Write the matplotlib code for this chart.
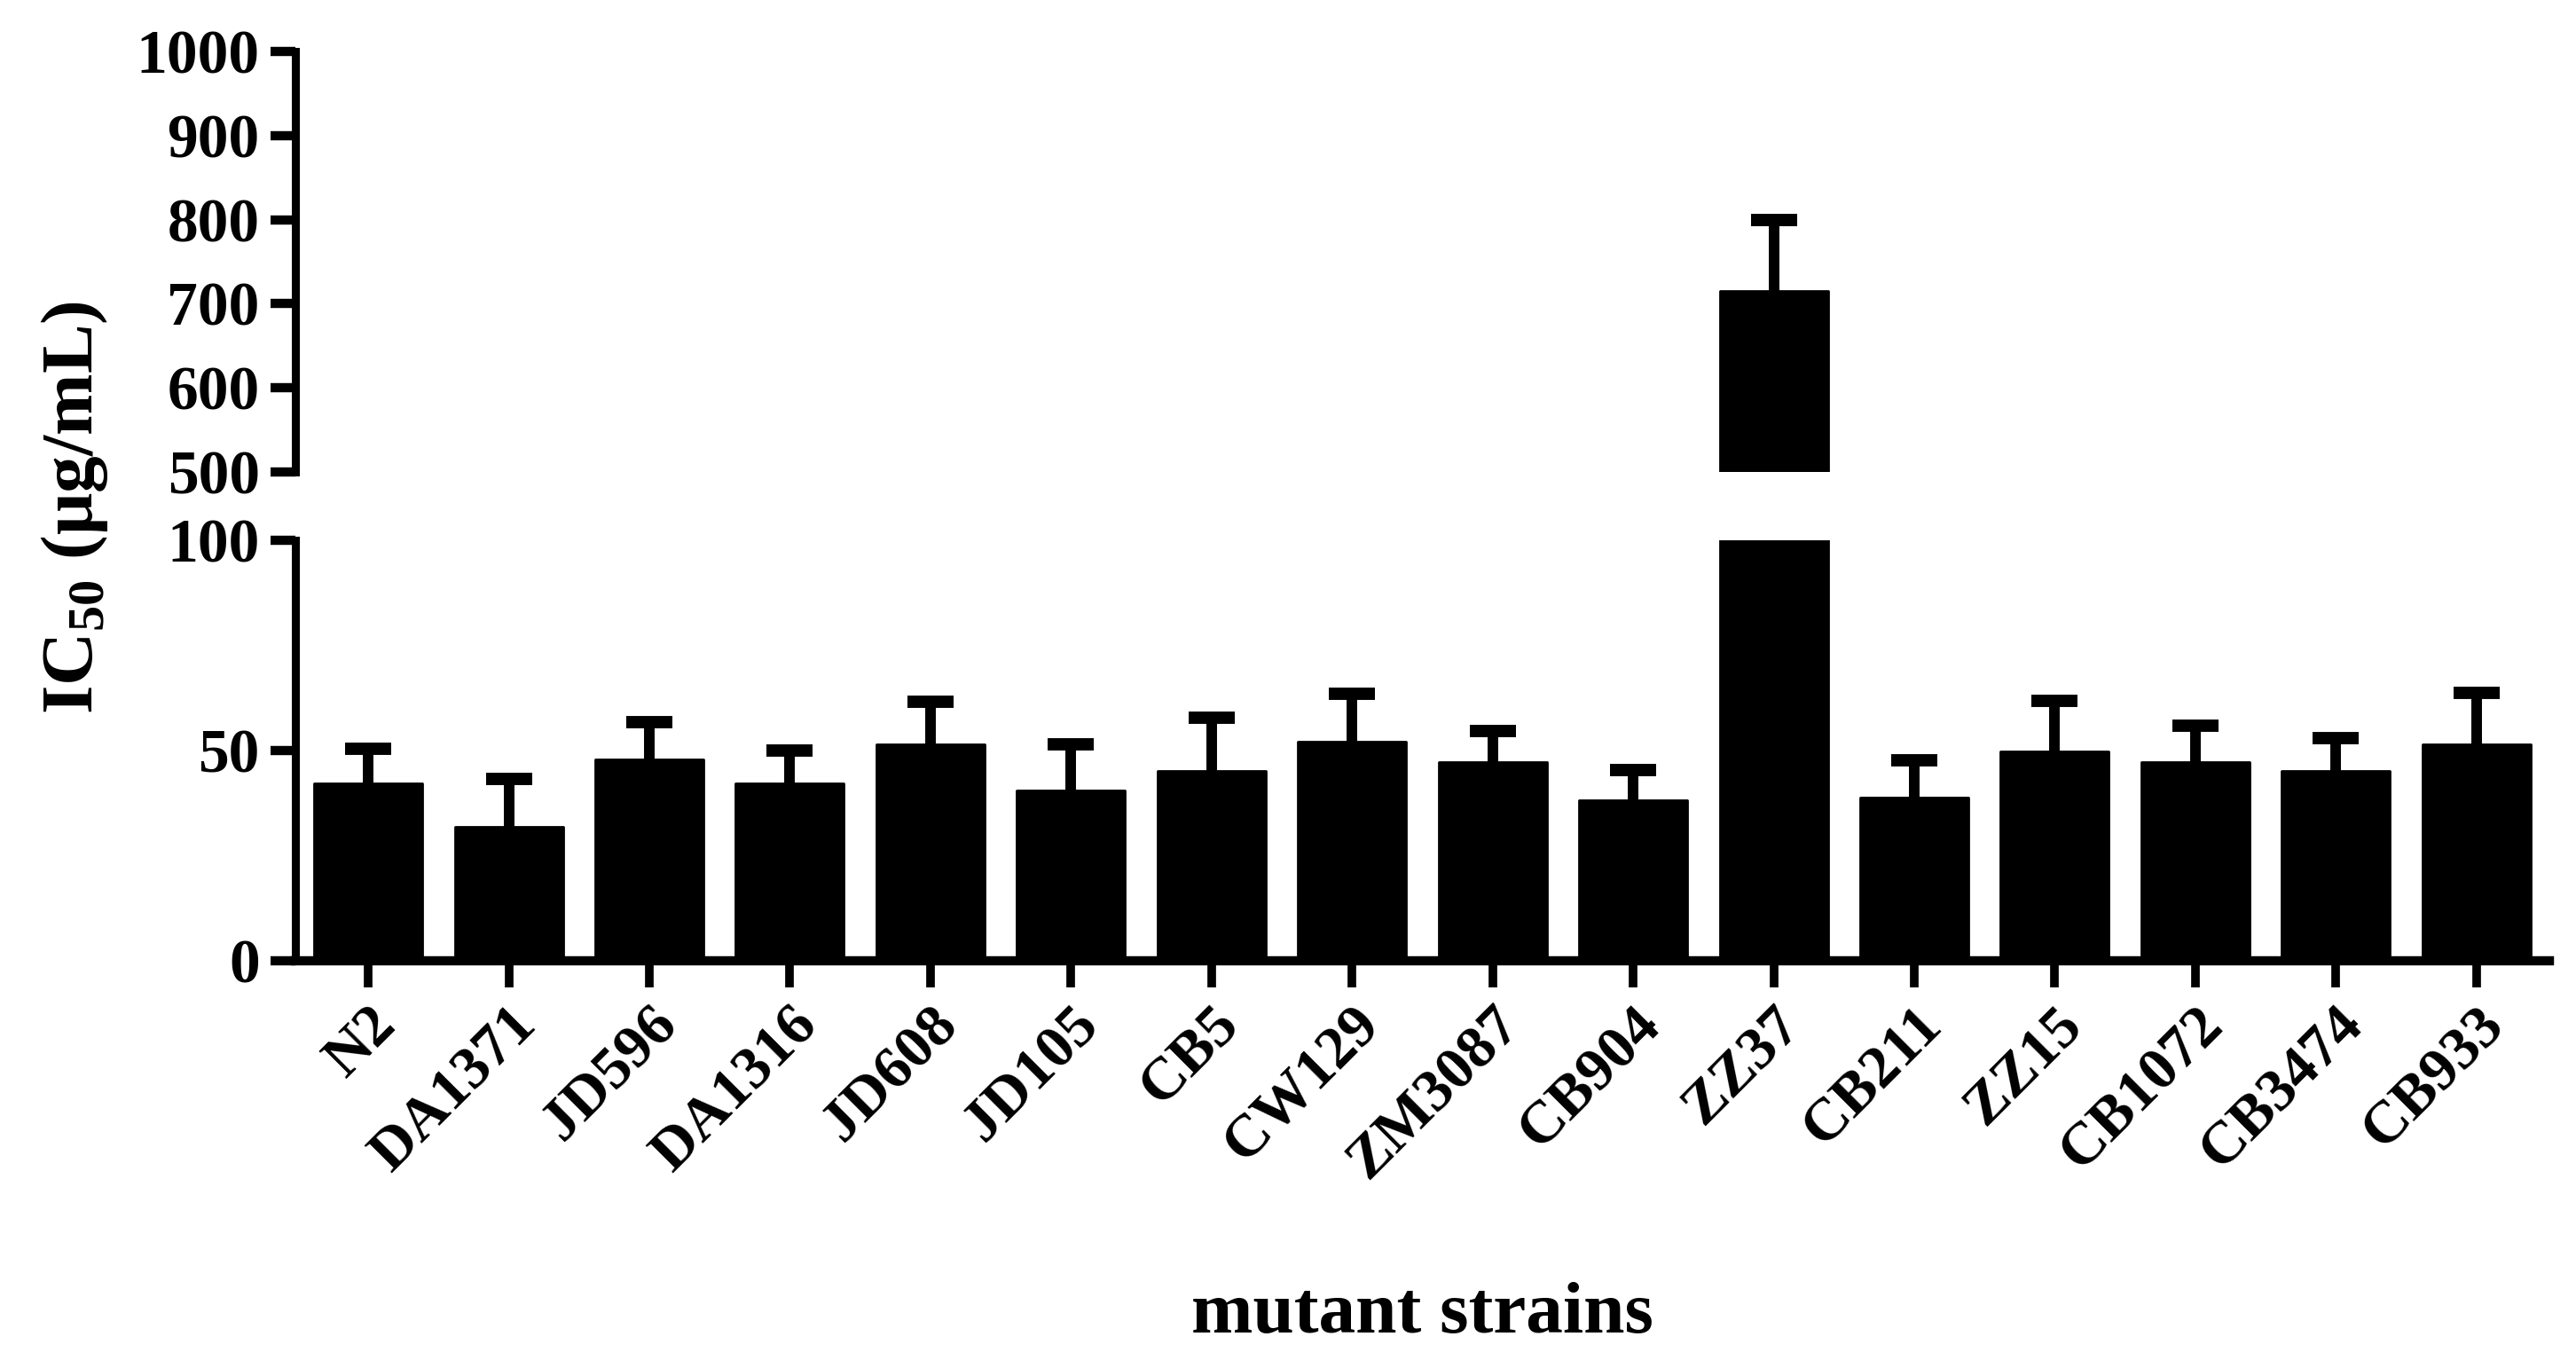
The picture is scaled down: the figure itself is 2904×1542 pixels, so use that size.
import numpy as np
import matplotlib
matplotlib.use("Agg")
import matplotlib.pyplot as plt
from matplotlib.ticker import FixedLocator

# data
strains = ["N2", "DA1371", "JD596", "DA1316", "JD608", "JD105", "CB5", "CW129",
           "ZM3087", "CB904", "ZZ37", "CB211", "ZZ15", "CB1072", "CB3474", "CB933"]
ic50 = [42.2, 31.9, 47.9, 42.1, 51.4, 40.5, 45.2, 52.1,
        47.2, 38.1, 715.0, 38.9, 49.7, 47.2, 45.2, 51.4]
sd = [8.3, 11.3, 8.9, 7.9, 10.2, 11.0, 12.5, 11.4,
      7.5, 7.3, 85.0, 8.8, 12.1, 8.7, 7.8, 12.3]
top_ticks = [500, 600, 700, 800, 900, 1000]
bottom_ticks = [0, 50, 100]

plt.rcParams['font.family'] = 'serif'
plt.rcParams['font.serif'] = ['Liberation Serif', 'DejaVu Serif']
plt.rcParams['font.weight'] = 'bold'
plt.rcParams['mathtext.fontset'] = 'custom'
plt.rcParams['mathtext.rm'] = 'Liberation Serif'
plt.rcParams['mathtext.bf'] = 'Liberation Serif:bold'

fig = plt.figure(figsize=(29.04, 15.42), dpi=100, facecolor='white')
ax_top = fig.add_axes([0.1147, 0.6550, 0.8750, 0.3074])
ax_bot = fig.add_axes([0.1147, 0.2977, 0.8750, 0.3074])

x = np.arange(len(strains))
for ax in (ax_top, ax_bot):
    # symmetric bars drawn behind the columns, so only the upper half shows
    ax.errorbar(x, ic50, yerr=sd, fmt='none', ecolor='black',
                elinewidth=8.6, capsize=18.7, capthick=10, zorder=1)
    ax.bar(x, ic50, width=0.77, color='black', edgecolor='black',
           linewidth=2, joinstyle='round', zorder=2)
    ax.set_xlim(-0.518, len(strains) - 1 + 0.52)
    ax.spines['top'].set_visible(False)
    ax.spines['right'].set_visible(False)
    ax.spines['left'].set_linewidth(6.5)
    ax.tick_params(axis='y', which='major', direction='out', length=20, width=7.5,
                   labelsize=50, pad=9)
    ax.tick_params(axis='y', which='minor', direction='in', length=20, width=7.5)

# top segment
ax_top.set_ylim(500, 1000)
ax_top.set_yticks(top_ticks)
ax_top.yaxis.set_minor_locator(FixedLocator([500]))
ax_top.spines['bottom'].set_visible(False)
ax_top.tick_params(axis='x', bottom=False, labelbottom=False)

# bottom segment
ax_bot.set_ylim(0, 100)
ax_bot.set_yticks(bottom_ticks)
ax_bot.yaxis.set_minor_locator(FixedLocator([100]))
ax_bot.spines['bottom'].set_linewidth(7.5)
ax_bot.set_xticks(x)
ax_bot.set_xticklabels(strains, rotation=45, ha='right', va='top',
                       rotation_mode='anchor', fontsize=49, fontweight='bold')
ax_bot.tick_params(axis='x', direction='out', length=21.6, width=7, pad=8)

for lab in ax_top.get_yticklabels() + ax_bot.get_yticklabels():
    lab.set_fontweight('bold')

fig.text(0.5523, 0.026, 'mutant strains', ha='center', va='baseline',
         fontsize=60, fontweight='bold')
fig.text(0.029, 0.629, r'IC$_{\mathrm{50}}$ (μg/mL)', rotation=90,
         ha='center', va='center', fontsize=60, fontweight='bold')

fig.savefig('out.png', dpi=100, facecolor='white')
